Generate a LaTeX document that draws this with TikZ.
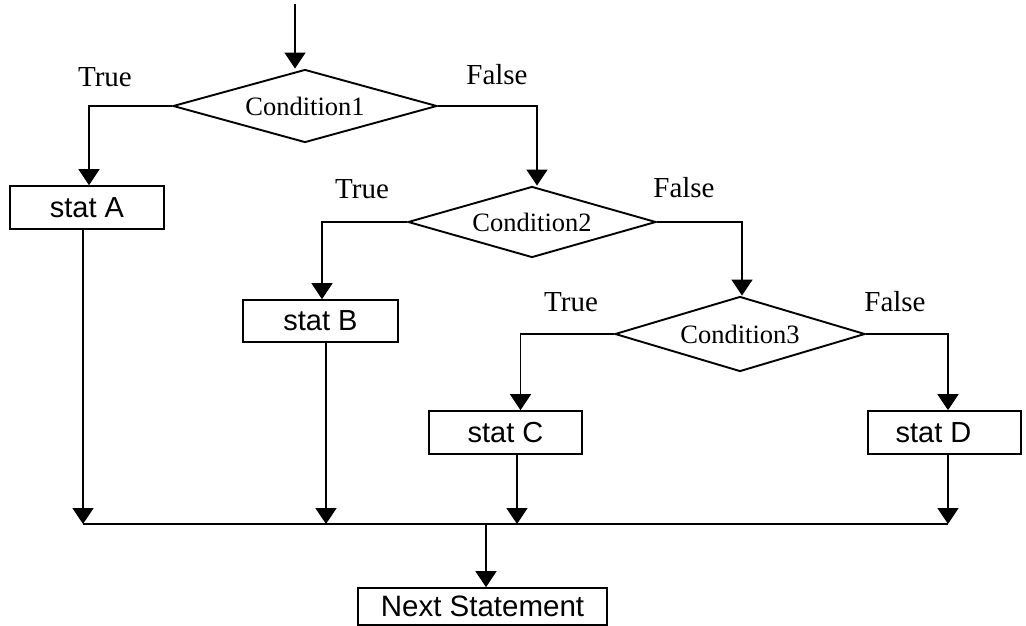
\documentclass[tikz,border=0pt]{standalone}
\usepackage{fontspec}
\setmainfont{Liberation Serif}
\setsansfont{Liberation Sans}
\usetikzlibrary{shapes.geometric,arrows.meta}
\begin{document}
\begin{tikzpicture}[x=1pt,y=-1pt,
  line width=1.8pt,
  arr/.style={-{Triangle[width=21pt,length=16pt]}},
  cond/.style={diamond,draw,line width=1.9pt,inner sep=0pt,font=\fontsize{26.5}{28}\selectfont},
  stmt/.style={rectangle,draw,line width=1.7pt,inner sep=0pt,font=\sffamily\fontsize{29}{30}\selectfont},
  lbl/.style={font=\fontsize{29}{30}\selectfont,inner sep=0pt}]
\useasboundingbox (0,0) rectangle (1026,626);
% decisions
\node[cond,aspect=3.62,minimum width=264pt,minimum height=73pt] (D1) at (305,106) {Condition1};
\node[cond,aspect=3.49,minimum width=248pt,minimum height=71pt] (D2) at (532,222) {Condition2};
\node[cond,aspect=3.33,minimum width=250pt,minimum height=75pt] (D3) at (740,334) {Condition3};
% statements
\node[stmt,minimum width=154pt,minimum height=43pt] (A) at (87,207.5) {stat A};
\node[stmt,minimum width=155pt,minimum height=42pt] (B) at (320.5,321) {stat B};
\node[stmt,minimum width=153pt,minimum height=43pt] (C) at (505.5,432.5) {stat C};
\node[stmt,minimum width=153pt,minimum height=43pt] (D) at (944.5,432.5) {\hspace*{-22pt}stat D};
\node[stmt,minimum width=249pt,minimum height=37pt,font=\sffamily\fontsize{29.5}{32}\selectfont] (N) at (482.5,606.5) {Next Statement};
% labels
\node[lbl] (T1) at (105,77) {True};
\node[lbl] (F1) at (497,75) {False};
\node[lbl] (T2) at (362,189) {True};
\node[lbl] (F2) at (684,188) {False};
\node[lbl] (T3) at (571,302) {True};
\node[lbl] (F3) at (895,302) {False};
% coordinates
\coordinate (top) at (295,4);
\coordinate (busL) at (83,524);
\coordinate (busR) at (948,524);
\coordinate (busN) at (486,524);
% connectors
\draw[arr] (top) -- (top |- D1.north);
\draw[arr] (D1.west) -| ([xshift=2pt]A.north);
\draw[arr] (D1.east) -| ([xshift=5pt]D2.north);
\draw[arr] (D2.west) -| ([xshift=1.5pt]B.north);
\draw[arr] (D2.east) -| ([xshift=2pt]D3.north);
\draw[arr] (D3.west) -| ([xshift=15pt]C.north);
\draw[arr] (D3.east) -| ([xshift=3.5pt]D.north);
\draw (busL) -- (busR);
\draw[arr] ([xshift=-4pt]A.south) -- ([xshift=-4pt]A.south |- busL);
\draw[arr] ([xshift=5.5pt]B.south) -- ([xshift=5.5pt]B.south |- busL);
\draw[arr] ([xshift=11.5pt]C.south) -- ([xshift=11.5pt]C.south |- busL);
\draw[arr] ([xshift=3.5pt]D.south) -- ([xshift=3.5pt]D.south |- busL);
\draw[arr] (busN) -- (busN |- N.north);
\end{tikzpicture}
\end{document}
